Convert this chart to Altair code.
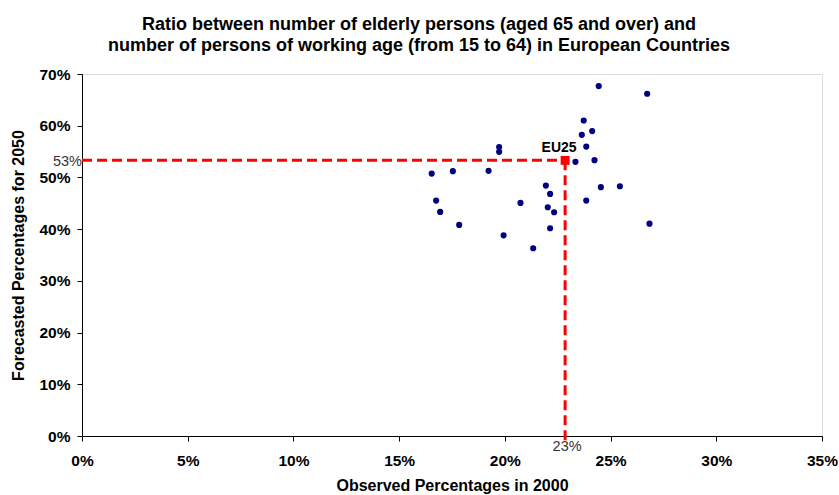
import altair as alt
import pandas as pd

# Observed ratio in 2000 (%) and forecast for 2050 (%) for the countries
obs_2000 = [24.44, 26.73, 23.73, 24.13, 23.64, 23.85, 19.73, 19.73, 23.34, 24.24,
            16.54, 17.54, 19.23, 21.94, 24.54, 25.44, 22.14, 16.75, 23.85, 20.74,
            16.94, 22.03, 22.33, 17.84, 26.84, 22.14, 19.94, 21.34]
fc_2050 = [67.67, 66.18, 61.01, 58.96, 58.24, 55.97, 55.86, 54.95, 53.01, 53.34,
           50.75, 51.21, 51.27, 48.42, 48.11, 48.30, 46.81, 45.52, 45.52, 45.07,
           43.33, 44.24, 43.27, 40.81, 41.06, 40.17, 38.81, 36.30]

eu_name = ["EU25"]
eu_x = [22.85]
eu_y = [53.3]
eu_x_label = ["23%"]
eu_y_label = ["53%"]

pts = pd.DataFrame({"x": obs_2000, "y": fc_2050})
eu = pd.DataFrame({"name": eu_name, "x": eu_x, "y": eu_y,
                   "xl": eu_x_label, "yl": eu_y_label, "x0": [0], "ybot": [-1.0]})

FONT = "Liberation Sans"

xscale = alt.Scale(domain=[0, 35], nice=False, zero=False)
yscale = alt.Scale(domain=[0, 70], nice=False, zero=False)

xaxis = alt.Axis(title="Observed Percentages in 2000", values=[0, 5, 10, 15, 20, 25, 30, 35],
                 labelExpr="datum.value + '%'", grid=False, domainColor="black",
                 tickColor="black", tickSize=5, labelPadding=12, labelFontSize=15.5,
                 labelFontWeight="bold", labelFont=FONT, labelColor="black",
                 titleFont=FONT, titleFontSize=16, titleFontWeight="bold",
                 titleColor="black", titlePadding=9, labelFlush=False)
yaxis = alt.Axis(title="Forecasted Percentages for 2050", values=[0, 10, 20, 30, 40, 50, 60, 70],
                 labelExpr="datum.value + '%'", grid=False, domainColor="black",
                 tickColor="black", tickSize=5, labelPadding=7, labelFontSize=15.5,
                 labelFontWeight="bold", labelFont=FONT, labelColor="black",
                 titleFont=FONT, titleFontSize=16, titleFontWeight="bold",
                 titleColor="black", titlePadding=12)

points = alt.Chart(pts).mark_circle(size=38, color="#000080", opacity=1).encode(
    x=alt.X("x:Q", scale=xscale, axis=xaxis),
    y=alt.Y("y:Q", scale=yscale, axis=yaxis),
)

hline = alt.Chart(eu).mark_rule(color="#FF0000", strokeWidth=3, strokeDash=[10, 5]).encode(
    x=alt.X("x0:Q", scale=xscale), x2="x:Q", y=alt.Y("y:Q", scale=yscale))
vline = alt.Chart(eu).mark_rule(color="#FF0000", strokeWidth=3, strokeDash=[10, 5], clip=False).encode(
    x=alt.X("x:Q", scale=xscale), y=alt.Y("y:Q", scale=yscale), y2="ybot:Q")
marker = alt.Chart(eu).mark_square(size=80, color="#FF0000", opacity=1).encode(
    x=alt.X("x:Q", scale=xscale), y=alt.Y("y:Q", scale=yscale))
eu_text = alt.Chart(eu).mark_text(font=FONT, fontSize=14, fontWeight="bold", color="black",
                                  dx=-6, dy=-12).encode(
    x=alt.X("x:Q", scale=xscale), y=alt.Y("y:Q", scale=yscale), text="name:N")
ylab = alt.Chart(eu).mark_text(font=FONT, fontSize=14.5, color="#333333", align="right",
                               dx=0, dy=2).encode(
    x=alt.X("x0:Q", scale=xscale), y=alt.Y("y:Q", scale=yscale), text="yl:N")
xlab = alt.Chart(eu).mark_text(font=FONT, fontSize=14.5, color="#333333", baseline="top",
                               dx=2, dy=4).encode(
    x=alt.X("x:Q", scale=xscale), y=alt.value(362), text="xl:N")

chart = alt.layer(hline, vline, points, marker, eu_text, ylab, xlab).properties(
    width=740, height=362,
    title=alt.Title(
        ["Ratio between number of elderly persons (aged 65 and over) and",
         "number of persons of working age (from 15 to 64) in European Countries"],
        font=FONT, fontSize=18, fontWeight="bold", color="black", anchor="middle",
        dx=-33, lineHeight=21, offset=12),
    autosize=alt.AutoSizeParams(type="none"),
    padding={"left": 82, "top": 74, "right": 17, "bottom": 59},
).configure_view(stroke="#A0A0A0", strokeWidth=2).configure(background="white")

chart.save("out.html", embed_options={"renderer": "svg", "actions": False})
